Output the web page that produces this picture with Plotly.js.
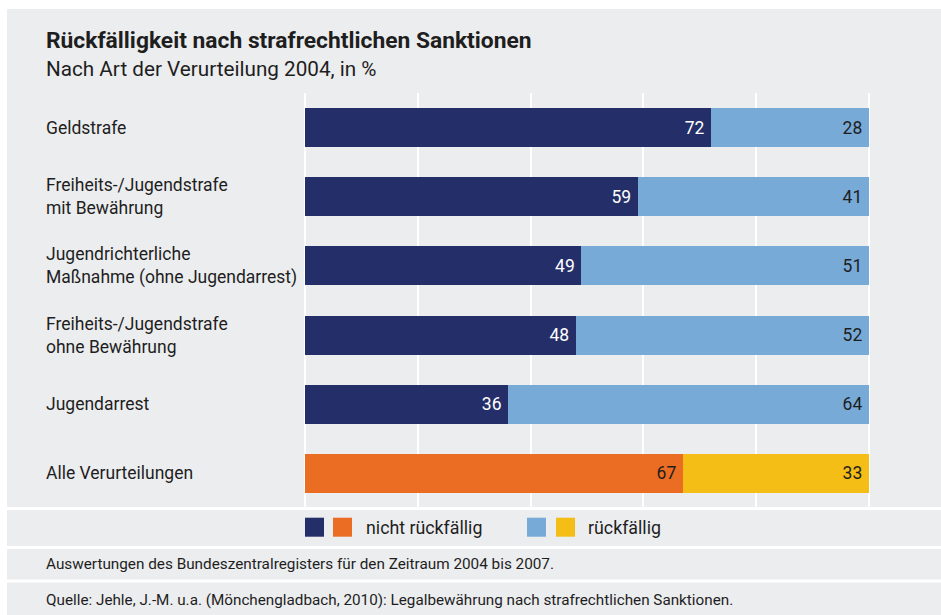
<!DOCTYPE html>
<html>
<head>
<meta charset="utf-8">
<script src="https://cdn.plot.ly/plotly-3.0.1.min.js"></script>
<style>
  html, body { margin: 0; padding: 0; background: #ffffff; }
  #chart { position: absolute; left: 7px; top: 9px; width: 934px; height: 606px; }
</style>
</head>
<body>
<div id="chart"></div>
<script>
// ---- data ----
const categories = [
  "Geldstrafe",
  "Freiheits-/Jugendstrafe mit Bewährung",
  "Jugendrichterliche Maßnahme (ohne Jugendarrest)",
  "Freiheits-/Jugendstrafe ohne Bewährung",
  "Jugendarrest",
  "Alle Verurteilungen"
];
const categoryLabels = [
  "Geldstrafe",
  "Freiheits-/Jugendstrafe<br>mit Bewährung",
  "Jugendrichterliche<br>Maßnahme (ohne Jugendarrest)",
  "Freiheits-/Jugendstrafe<br>ohne Bewährung",
  "Jugendarrest",
  "Alle Verurteilungen"
];
const nichtRueckfaellig = [72, 59, 49, 48, 36, 67];
const rueckfaellig = [28, 41, 51, 52, 64, 33];
const seriesNames = ["nicht rückfällig", "rückfällig"];
const titleText = "Rückfälligkeit nach strafrechtlichen Sanktionen";
const subtitleText = "Nach Art der Verurteilung 2004, in %";
const noteText = "Auswertungen des Bundeszentralregisters für den Zeitraum 2004 bis 2007.";
const sourceText = "Quelle: Jehle, J.-M. u.a. (Mönchengladbach, 2010): Legalbewährung nach strafrechtlichen Sanktionen.";

// ---- styles ----
const FONT = "Roboto, 'Open Sans', sans-serif";
const TXT = "#1e1e1e";
const NAVY = "#242e69", ORANGE = "#eb6c23", LBLUE = "#78aad8", YELLOW = "#f5be17";
const BG = "#ecedef";
const n = categories.length;
const isTotal = categories.map((c, i) => i === n - 1);
const PADCH = "\u2009"; // small right padding inside bars

const trace1 = {
  type: "bar", orientation: "h",
  y: categories, x: nichtRueckfaellig,
  name: seriesNames[0],
  marker: { color: isTotal.map(t => t ? ORANGE : NAVY), line: { width: 0 } },
  text: nichtRueckfaellig.map(v => String(v) + PADCH),
  textposition: "inside", insidetextanchor: "end", textangle: 0,
  constraintext: "none",
  textfont: { family: FONT, size: 17.5, color: isTotal.map(t => t ? TXT : "#ffffff") },
  hoverinfo: "x+name"
};
const trace2 = {
  type: "bar", orientation: "h",
  y: categories, x: rueckfaellig,
  name: seriesNames[1],
  marker: { color: isTotal.map(t => t ? YELLOW : LBLUE), line: { width: 0 } },
  text: rueckfaellig.map(v => String(v) + PADCH),
  textposition: "inside", insidetextanchor: "end", textangle: 0,
  constraintext: "none",
  textfont: { family: FONT, size: 17.5, color: TXT },
  hoverinfo: "x+name"
};

const W = 934, H = 606, L = 297, R = 71, T = 84, B = 107;
const pw = W - L - R, ph = H - T - B;
const px = v => (v - L) / pw;          // div px -> paper x
const py = v => (H - B - v) / ph;      // div px -> paper y

const annotations = [];
categories.forEach((c, i) => {
  annotations.push({
    xref: "paper", yref: "y", x: px(37), y: c,
    xanchor: "left", yanchor: "middle", align: "left",
    text: categoryLabels[i], showarrow: false,
    font: { family: FONT, size: 17.5, color: TXT }
  });
});
annotations.push(
  { xref: "paper", yref: "paper", x: px(37), y: py(31), xanchor: "left", yanchor: "middle",
    text: "<b>" + titleText + "</b>", showarrow: false, font: { family: FONT, size: 22.8, color: TXT } },
  { xref: "paper", yref: "paper", x: px(37), y: py(59.5), xanchor: "left", yanchor: "middle",
    text: subtitleText, showarrow: false, font: { family: FONT, size: 20.7, color: TXT } },
  { xref: "paper", yref: "paper", x: px(357), y: py(518), xanchor: "left", yanchor: "middle",
    text: seriesNames[0], showarrow: false, font: { family: FONT, size: 17.8, color: TXT } },
  { xref: "paper", yref: "paper", x: px(579), y: py(518), xanchor: "left", yanchor: "middle",
    text: seriesNames[1], showarrow: false, font: { family: FONT, size: 17.8, color: TXT } },
  { xref: "paper", yref: "paper", x: px(37), y: py(555), xanchor: "left", yanchor: "middle",
    text: noteText, showarrow: false, font: { family: FONT, size: 15.3, color: TXT } },
  { xref: "paper", yref: "paper", x: px(37), y: py(591), xanchor: "left", yanchor: "middle",
    text: sourceText, showarrow: false, font: { family: FONT, size: 15.25, color: TXT } }
);

const sw = (x0, color) => ({
  type: "rect", xref: "paper", yref: "paper", layer: "above",
  x0: px(x0), x1: px(x0 + 19), y0: py(527.7), y1: py(508.7),
  fillcolor: color, line: { width: 0 }
});
const sep = (y) => ({
  type: "line", xref: "paper", yref: "paper", layer: "above",
  x0: px(0), x1: px(W), y0: py(y), y1: py(y),
  line: { color: "#ffffff", width: 3 }
});
const shapes = [
  sep(499.5), sep(538.5), sep(572),
  sw(298, NAVY), sw(326, ORANGE), sw(520, LBLUE), sw(549, YELLOW)
];

const layout = {
  width: W, height: H,
  margin: { l: L, r: R, t: T, b: B, pad: 0 },
  paper_bgcolor: BG, plot_bgcolor: BG,
  barmode: "stack", bargap: 0.436,
  showlegend: false,
  font: { family: FONT, color: TXT },
  xaxis: {
    range: [-0.2, 100.2], tick0: 0, dtick: 20,
    showgrid: true, gridcolor: "#ffffff", gridwidth: 2,
    zeroline: false, showticklabels: false, ticks: "", showline: false, fixedrange: true
  },
  yaxis: {
    categoryorder: "array", categoryarray: categories, autorange: "reversed",
    showticklabels: false, showgrid: false, zeroline: false, ticks: "", fixedrange: true
  },
  annotations: annotations,
  shapes: shapes
};

Plotly.newPlot("chart", [trace1, trace2], layout, { displayModeBar: false, staticPlot: true });
</script>
</body>
</html>
